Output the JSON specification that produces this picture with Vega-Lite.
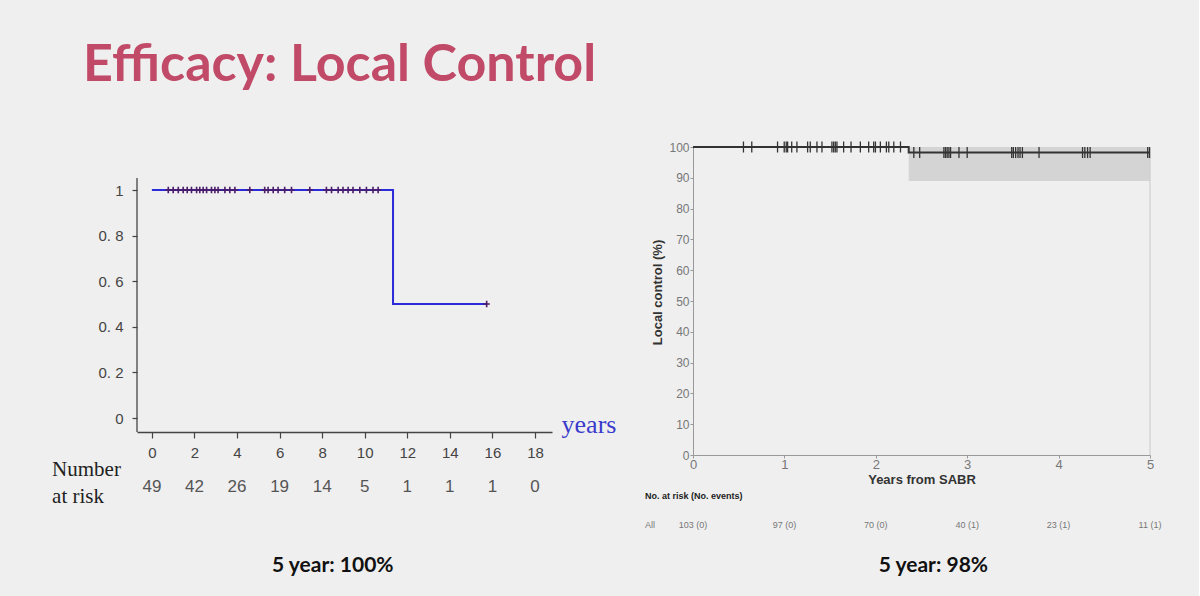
{
  "$schema": "https://vega.github.io/schema/vega-lite/v6.json",
  "background": "#efefef",
  "padding": {"left": 52, "top": 39, "right": 37, "bottom": 20},
  "title": {"text": "Efficacy: Local Control", "anchor": "start", "font": "Lato", "fontSize": 52, "fontWeight": "bold", "color": "#c04a68", "baseline": "alphabetic", "dx": 31, "offset": 8},
  "config": {"view": {"stroke": null}, "axis": {"grid": false, "labelOverlap": false}},
  "bounds": "flush",
  "spacing": 141,
  "datasets": {
    "one": [{}],
    "leftCurve": [{"t": 0, "s": 1}, {"t": 11.33, "s": 0.5}, {"t": 15.75, "s": 0.5}],
    "leftCensor": [
      {"t": 0.77, "s": 1}, {"t": 1.0, "s": 1}, {"t": 1.24, "s": 1}, {"t": 1.47, "s": 1}, {"t": 1.66, "s": 1},
      {"t": 1.86, "s": 1}, {"t": 2.1, "s": 1}, {"t": 2.25, "s": 1}, {"t": 2.41, "s": 1}, {"t": 2.57, "s": 1},
      {"t": 2.8, "s": 1}, {"t": 2.96, "s": 1}, {"t": 3.11, "s": 1}, {"t": 3.43, "s": 1}, {"t": 3.66, "s": 1},
      {"t": 3.9, "s": 1}, {"t": 4.6, "s": 1}, {"t": 5.3, "s": 1}, {"t": 5.46, "s": 1}, {"t": 5.7, "s": 1},
      {"t": 5.93, "s": 1}, {"t": 6.24, "s": 1}, {"t": 6.56, "s": 1}, {"t": 7.42, "s": 1}, {"t": 8.2, "s": 1},
      {"t": 8.44, "s": 1}, {"t": 8.75, "s": 1}, {"t": 8.98, "s": 1}, {"t": 9.22, "s": 1}, {"t": 9.45, "s": 1},
      {"t": 9.77, "s": 1}, {"t": 10.08, "s": 1}, {"t": 10.39, "s": 1}, {"t": 10.63, "s": 1}, {"t": 15.73, "s": 0.5}
    ],
    "leftRisk": [
      {"t": 0, "n": "49"}, {"t": 2, "n": "42"}, {"t": 4, "n": "26"}, {"t": 6, "n": "19"}, {"t": 8, "n": "14"},
      {"t": 10, "n": "5"}, {"t": 12, "n": "1"}, {"t": 14, "n": "1"}, {"t": 16, "n": "1"}, {"t": 18, "n": "0"}
    ],
    "rightCurve": [{"t": 0, "s": 100}, {"t": 2.36, "s": 98.2}, {"t": 5, "s": 98.2}],
    "rightBand": [{"t0": 2.36, "t1": 5, "lo": 89, "hi": 100}],
    "rightCensor": [
      {"t": 0.552, "s": 100}, {"t": 0.643, "s": 100}, {"t": 0.925, "s": 100}, {"t": 0.998, "s": 100}, {"t": 1.02, "s": 100},
      {"t": 1.035, "s": 100}, {"t": 1.08, "s": 100}, {"t": 1.137, "s": 100}, {"t": 1.254, "s": 100}, {"t": 1.283, "s": 100},
      {"t": 1.356, "s": 100}, {"t": 1.411, "s": 100}, {"t": 1.52, "s": 100}, {"t": 1.539, "s": 100}, {"t": 1.557, "s": 100},
      {"t": 1.575, "s": 100}, {"t": 1.648, "s": 100}, {"t": 1.729, "s": 100}, {"t": 1.831, "s": 100}, {"t": 1.922, "s": 100},
      {"t": 1.977, "s": 100}, {"t": 1.996, "s": 100}, {"t": 2.05, "s": 100}, {"t": 2.116, "s": 100}, {"t": 2.142, "s": 100},
      {"t": 2.197, "s": 100}, {"t": 2.27, "s": 100},
      {"t": 2.416, "s": 98.2}, {"t": 2.48, "s": 98.2}, {"t": 2.745, "s": 98.2}, {"t": 2.763, "s": 98.2}, {"t": 2.781, "s": 98.2},
      {"t": 2.8, "s": 98.2}, {"t": 2.818, "s": 98.2}, {"t": 2.91, "s": 98.2}, {"t": 3.0, "s": 98.2}, {"t": 3.487, "s": 98.2},
      {"t": 3.505, "s": 98.2}, {"t": 3.53, "s": 98.2}, {"t": 3.556, "s": 98.2}, {"t": 3.578, "s": 98.2}, {"t": 3.604, "s": 98.2},
      {"t": 3.786, "s": 98.2}, {"t": 4.262, "s": 98.2}, {"t": 4.287, "s": 98.2}, {"t": 4.317, "s": 98.2}, {"t": 4.345, "s": 98.2},
      {"t": 4.975, "s": 98.2}, {"t": 4.995, "s": 98.2}
    ],
    "rightRisk": [
      {"t": 0, "lab": "103 (0)"}, {"t": 1, "lab": "97 (0)"}, {"t": 2, "lab": "70 (0)"},
      {"t": 3, "lab": "40 (1)"}, {"t": 4, "lab": "23 (1)"}, {"t": 5, "lab": "11 (1)"}
    ]
  },
  "hconcat": [
    {
      "width": 415,
      "height": 285,
      "layer": [
        {
          "data": {"name": "leftCurve"},
          "mark": {"type": "line", "interpolate": "step-after", "color": "#2b2bd9", "strokeWidth": 2},
          "encoding": {
            "x": {"field": "t", "type": "quantitative",
              "scale": {"domain": [-0.7, 18.8], "nice": false, "zero": false},
              "axis": {"values": [0,1,2,3,4,5,6,7,8,9,10,11,12,13,14,15,16,17,18], "title": null, "grid": false,
                "domainColor": "#444", "domainWidth": 1.3, "tickColor": "#444", "tickWidth": 1.2,
                "tickSize": {"condition": {"test": "datum.value % 2 == 1", "value": 3}, "value": 6},
                "labelExpr": "datum.value % 2 == 1 ? '' : datum.label",
                "labelOverlap": false, "labelFlush": false,
                "labelFont": "Liberation Sans", "labelFontSize": 15, "labelColor": "#444", "labelPadding": 7}},
            "y": {"field": "s", "type": "quantitative",
              "scale": {"domain": [-0.0614, 1.1886], "nice": false, "zero": false},
              "axis": {"values": [0,0.1,0.2,0.3,0.4,0.5,0.6,0.7,0.8,0.9,1], "title": null, "grid": false, "domain": false,
                "tickColor": "#444", "tickWidth": 1.2,
                "tickSize": {"condition": {"test": "round(datum.value*10) % 2 == 1", "value": 2.5}, "value": 5},
                "labelExpr": "round(datum.value*10) % 2 == 1 ? '' : (datum.value == 0 ? '0' : (datum.value == 1 ? '1' : replace(format(datum.value, '.1f'), '.', '. ')))",
                "labelOverlap": false, "labelFlush": false,
                "labelFont": "Liberation Sans", "labelFontSize": 15, "labelColor": "#444", "labelPadding": 9}}
          }
        },
        {
          "data": {"name": "one"},
          "mark": {"type": "rule", "color": "#444", "strokeWidth": 1.3},
          "encoding": {"x": {"datum": -0.7}, "y": {"datum": -0.0614}, "y2": {"datum": 1.0526}}
        },
        {
          "data": {"name": "leftCensor"},
          "mark": {"type": "point", "shape": "M-1,0L1,0M0,-1L0,1", "filled": false, "stroke": "#4a1c6a", "strokeWidth": 1.6, "size": 40, "opacity": 1},
          "encoding": {"x": {"field": "t", "type": "quantitative"}, "y": {"field": "s", "type": "quantitative"}}
        },
        {
          "data": {"name": "leftRisk"},
          "mark": {"type": "text", "font": "Liberation Sans", "fontSize": 17, "color": "#555", "baseline": "middle"},
          "encoding": {"x": {"field": "t", "type": "quantitative"}, "y": {"datum": -0.303}, "text": {"field": "n"}}
        },
        {
          "data": {"name": "one"},
          "mark": {"type": "text", "text": "Number", "font": "Liberation Serif", "fontSize": 21, "color": "#222", "align": "left", "baseline": "middle"},
          "encoding": {"x": {"datum": -4.69}, "y": {"datum": -0.228}}
        },
        {
          "data": {"name": "one"},
          "mark": {"type": "text", "text": "at risk", "font": "Liberation Serif", "fontSize": 21, "color": "#222", "align": "left", "baseline": "middle"},
          "encoding": {"x": {"datum": -4.69}, "y": {"datum": -0.346}}
        },
        {
          "data": {"name": "one"},
          "mark": {"type": "text", "text": "years", "font": "Liberation Serif", "fontSize": 26, "color": "#3a3acc", "align": "left", "baseline": "alphabetic"},
          "encoding": {"x": {"datum": 19.25}, "y": {"datum": -0.066}}
        },
        {
          "data": {"name": "one"},
          "mark": {"type": "text", "text": "5 year: 100%", "font": "Lato", "fontSize": 21, "fontWeight": "bold", "color": "#111", "align": "center", "baseline": "middle"},
          "encoding": {"x": {"datum": 8.5}, "y": {"datum": -0.649}}
        }
      ]
    },
    {
      "width": 457,
      "height": 308,
      "layer": [
        {
          "data": {"name": "rightBand"},
          "mark": {"type": "rect", "color": "#d4d4d4"},
          "encoding": {
            "x": {"field": "t0", "type": "quantitative", "scale": {"domain": [0, 5], "nice": false, "zero": false}},
            "x2": {"field": "t1"},
            "y": {"field": "lo", "type": "quantitative", "scale": {"domain": [0, 100], "nice": false, "zero": false}},
            "y2": {"field": "hi"}
          }
        },
        {
          "data": {"name": "one"},
          "mark": {"type": "rule", "color": "#cacaca", "strokeWidth": 1},
          "encoding": {"x": {"datum": 5}, "y": {"datum": 0}, "y2": {"datum": 100}}
        },
        {
          "data": {"name": "rightCurve"},
          "mark": {"type": "line", "interpolate": "step-after", "color": "#333", "strokeWidth": 2},
          "encoding": {
            "x": {"field": "t", "type": "quantitative",
              "axis": {"values": [0,1,2,3,4,5], "format": "d", "title": "Years from SABR", "grid": false,
                "titleFont": "Liberation Sans", "titleFontSize": 13, "titleFontWeight": "bold", "titleColor": "#333", "titlePadding": 2,
                "labelFont": "Liberation Sans", "labelFontSize": 13, "labelColor": "#777", "labelPadding": 0, "labelFlush": false, "labelOverlap": false,
                "tickSize": 3, "tickColor": "#999", "domainColor": "#999"}},
            "y": {"field": "s", "type": "quantitative",
              "axis": {"values": [0,10,20,30,40,50,60,70,80,90,100], "tickCount": 11, "format": "d", "title": "Local control  (%)", "grid": false,
                "titleFont": "Liberation Sans", "titleFontSize": 13, "titleFontWeight": "bold", "titleColor": "#333", "titlePadding": 4, "titleY": 145,
                "labelFont": "Liberation Sans", "labelFontSize": 12, "labelColor": "#777", "labelPadding": 1, "labelOverlap": false, "labelFlush": false,
                "labelSeparation": 0, "tickSize": 3, "tickColor": "#999", "domainColor": "#999"}}
          }
        },
        {
          "data": {"name": "rightCensor"},
          "mark": {"type": "tick", "orient": "vertical", "color": "#333", "size": 11, "thickness": 1.3, "opacity": 1},
          "encoding": {"x": {"field": "t", "type": "quantitative"}, "y": {"field": "s", "type": "quantitative"}}
        },
        {
          "data": {"name": "rightRisk"},
          "mark": {"type": "text", "font": "Liberation Sans", "fontSize": 9, "color": "#777", "baseline": "middle"},
          "encoding": {"x": {"field": "t", "type": "quantitative"}, "y": {"datum": -22.7}, "text": {"field": "lab"}}
        },
        {
          "data": {"name": "one"},
          "mark": {"type": "text", "text": "All", "font": "Liberation Sans", "fontSize": 9, "color": "#777", "align": "left", "baseline": "middle"},
          "encoding": {"x": {"datum": -0.526}, "y": {"datum": -22.7}}
        },
        {
          "data": {"name": "one"},
          "mark": {"type": "text", "text": "No. at risk (No. events)", "font": "Liberation Sans", "fontSize": 9, "fontWeight": "bold", "color": "#222", "align": "left", "baseline": "middle"},
          "encoding": {"x": {"datum": -0.526}, "y": {"datum": -13.3}}
        },
        {
          "data": {"name": "one"},
          "mark": {"type": "text", "text": "5 year: 98%", "font": "Lato", "fontSize": 21, "fontWeight": "bold", "color": "#111", "align": "center", "baseline": "middle"},
          "encoding": {"x": {"datum": 2.63}, "y": {"datum": -36.0}}
        }
      ]
    }
  ]
}
